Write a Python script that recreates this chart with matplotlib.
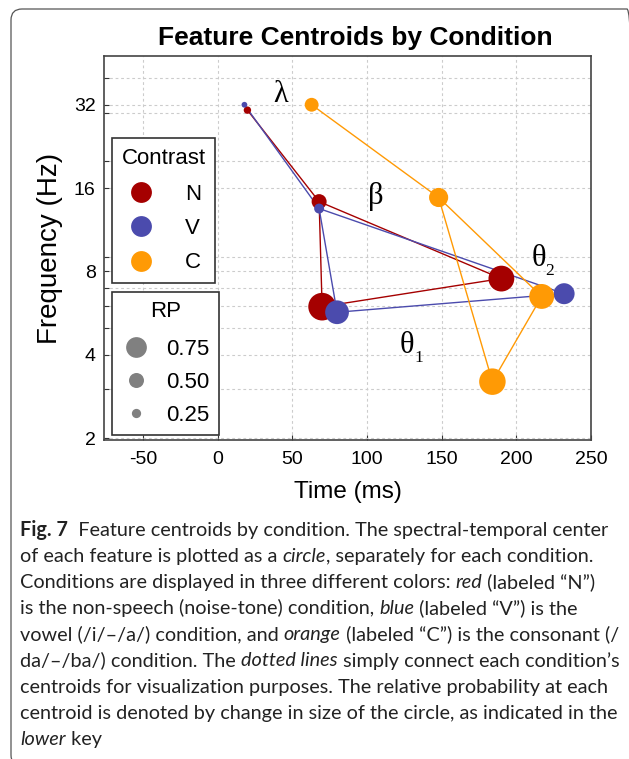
import matplotlib
matplotlib.use("Agg")
import matplotlib.pyplot as plt
from matplotlib.lines import Line2D
from matplotlib.patches import FancyBboxPatch
from matplotlib.transforms import IdentityTransform
import numpy as np

# centroid data (feature order: lambda, beta, theta1, theta2)
conditions = ["N", "V", "C"]
cond_colors = ["#a50000", "#4b4bad", "#ff9a05"]
time_N = [20, 68, 70, 190]
time_V = [18, 68, 80, 232]
time_C = [63, 148, 184, 217]
freq_N = [30.6, 14.3, 5.97, 7.54]
freq_V = [32.0, 13.5, 5.7, 6.65]
freq_C = [32.0, 14.8, 3.2, 6.5]
rp_N = [0.17, 0.50, 1.05, 0.97]
rp_V = [0.10, 0.28, 0.88, 0.76]
rp_C = [0.45, 0.68, 1.00, 0.93]
path_order = [0, 1, 2, 3, 1]  # lambda -> beta -> theta1 -> theta2 -> beta

feature_labels = ["\u03bb", "\u03b2", "\u03b8", "\u03b8"]
feature_subs = ["", "", "1", "2"]
label_time = [42, 106, 127, 215]
label_freq = [34.8, 14.9, 4.31, 8.94]

rp_key = [0.75, 0.50, 0.25]
y_major = [2, 4, 8, 16, 32]
y_minor = [3, 5, 6, 7, 9, 20, 30, 40]
x_ticks = [-50, 0, 50, 100, 150, 200, 250]

caption = [
    [("Fig. 7", "b"), ("  Feature centroids by condition. The spectral-temporal center", "r")],
    [("of each feature is plotted as a ", "r"), ("circle", "i"), (", separately for each condition.", "r")],
    [("Conditions are displayed in three different colors: ", "r"), ("red", "i"), (" (labeled \u201cN\u201d)", "r")],
    [("is the non-speech (noise-tone) condition, ", "r"), ("blue", "i"), (" (labeled \u201cV\u201d) is the", "r")],
    [("vowel (/i/\u2013/a/) condition, and ", "r"), ("orange", "i"), (" (labeled \u201cC\u201d) is the consonant (/", "r")],
    [("da/\u2013/ba/) condition. The ", "r"), ("dotted lines", "i"), (" simply connect each condition\u2019s", "r")],
    [("centroids for visualization purposes. The relative probability at each", "r")],
    [("centroid is denoted by change in size of the circle, as indicated in the", "r")],
    [("lower", "i"), (" key", "r")],
]


def rp_to_size(rp):
    d_px = 3.5 + 23 * np.asarray(rp)
    return (d_px * 0.72) ** 2


W, H = 629, 759
plt.rcParams["font.family"] = ["Liberation Sans", "DejaVu Sans"]
fig = plt.figure(figsize=(W / 100, H / 100), dpi=100)
ax = fig.add_axes([104 / W, 1 - 440 / H, 487 / W, 384 / H])

times = [time_N, time_V, time_C]
freqs = [freq_N, freq_V, freq_C]
rps = [rp_N, rp_V, rp_C]

for t, f, c in zip(times, freqs, cond_colors):
    t = np.array(t)[path_order]
    f = np.array(f)[path_order]
    ax.plot(t, f, color=c, lw=1.0, zorder=2)
for t, f, r, c in zip(times, freqs, rps, cond_colors):
    ax.scatter(t, f, s=rp_to_size(r), color=c, edgecolors="none", zorder=3)

serif = ["Liberation Serif", "DejaVu Serif"]
for lab, sub, lt, lf in zip(feature_labels, feature_subs, label_time, label_freq):
    ax.text(lt, lf, lab, fontsize=22, family=serif, ha="center", va="center")
    if sub:
        ax.annotate(sub, xy=(lt, lf), xytext=(8, -9), textcoords="offset points",
                    fontsize=12.5, family=serif, ha="center", va="center")

ax.set_yscale("log", base=2)
ax.set_xlim(-76, 250)
ax.set_ylim(1.97, 48)
ax.set_yticks(y_major)
ax.set_yticklabels([str(v) for v in y_major])
ax.set_yticks(y_minor, minor=True)
ax.yaxis.set_minor_formatter(plt.NullFormatter())
ax.set_xticks(x_ticks)
ax.set_xticklabels([str(v) for v in x_ticks])
ax.tick_params(axis="both", which="both", direction="in", length=3.5, width=0.8,
               color="#333333", labelsize=14, top=False, right=False)
ax.tick_params(axis="y", pad=6)
ax.tick_params(axis="x", pad=8)
ax.grid(True, axis="x", which="major", color="#cccccc", ls=(0, (2.5, 2.5)), lw=0.8)
ax.grid(True, axis="y", which="both", color="#cccccc", ls=(0, (2.5, 2.5)), lw=0.8)
ax.set_axisbelow(True)
for sp in ax.spines.values():
    sp.set_color("#444444")
    sp.set_linewidth(1.2)

ax.set_xlabel("Time (ms)", fontsize=17.5, labelpad=9)
ax.set_ylabel("Frequency (Hz)", fontsize=20, labelpad=8)
ax.set_title("Feature Centroids by Condition", fontsize=19, fontweight="bold",
             pad=8, x=0.516)

legend_kw = dict(loc="upper left", borderaxespad=0, fontsize=16, title_fontsize=16,
                 frameon=True, fancybox=False, edgecolor="#333333", framealpha=1,
                 borderpad=0.42, handlelength=1.3)

# colour key
cond_handles = [Line2D([], [], ls="none", marker="o", markersize=15,
                       markerfacecolor=c, markeredgecolor="none") for c in cond_colors]
leg1 = ax.legend(cond_handles, conditions, title="Contrast", labelspacing=0.6,
                 bbox_to_anchor=(0.017, 0.786), handletextpad=1.35, **legend_kw)
leg1.get_frame().set_linewidth(1.2)
leg1._legend_box.sep = 11
ax.add_artist(leg1)

# size key
size_handles = [Line2D([], [], ls="none", marker="o",
                       markersize=np.sqrt(rp_to_size(r)),
                       markerfacecolor="#808080", markeredgecolor="none") for r in rp_key]
leg2 = ax.legend(size_handles, ["%.2f" % r for r in rp_key], title="RP", labelspacing=0.54,
                 bbox_to_anchor=(0.017, 0.386), handletextpad=0.7, **legend_kw)
leg2.get_frame().set_linewidth(1.2)
leg2._legend_box.sep = 12

# rounded frame round the whole figure
frame = FancyBboxPatch((11, -7), 627, 758 - 8 + 7, boxstyle="round,pad=0,rounding_size=11",
                       transform=IdentityTransform(), facecolor="none",
                       edgecolor="#555555", lw=0.9, clip_on=False)
fig.add_artist(frame)

# caption, drawn piece by piece so italics sit inline
renderer = fig.canvas.get_renderer()
cap_font = ["Lato", "DejaVu Sans"]
probe = fig.text(0, 0, caption[6][0][0], fontsize=10, family=cap_font)
cap_fs = 10 * 592 / probe.get_window_extent(renderer).width
probe.remove()

y0 = 536
for i, line in enumerate(caption):
    x = 20
    yb = y0 + i * 26.1
    for txt, style in line:
        t = fig.text(x / W, 1 - yb / H, txt, fontsize=cap_fs, family=cap_font,
                     fontweight="bold" if style == "b" else "normal",
                     fontstyle="italic" if style == "i" else "normal",
                     color="#222222", ha="left", va="baseline")
        x += t.get_window_extent(renderer).width

fig.savefig("out.png", dpi=100)
